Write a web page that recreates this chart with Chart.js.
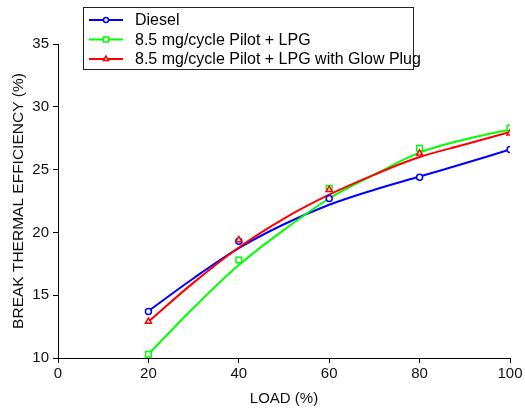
<!DOCTYPE html>
<html>
<head>
<meta charset="utf-8">
<script src="https://cdn.jsdelivr.net/npm/chart.js@4/dist/chart.umd.min.js"></script>
<style>
  html, body { margin: 0; padding: 0; background: #fff; }
  #wrap { position: relative; width: 525px; height: 408px; }
</style>
</head>
<body>
<div id="wrap"><canvas id="c" width="525" height="408"></canvas></div>
<script>
// Measured points
const loads = [20, 40, 60, 80, 100];
const dieselPts = [13.7, 19.3, 22.7, 24.4, 26.6];
const lpgPts = [10.3, 17.8, 23.5, 26.7, 28.3];
const glowPts = [12.9, 19.4, 23.4, 26.3, 27.9];

// Trend curves
const curveLoads = [20, 30, 40, 50, 60, 70, 80, 90, 100];
const dieselCurve = [13.74, 16.35, 18.75, 20.65, 22.2, 23.4, 24.45, 25.5, 26.6];
const lpgCurve = [10.3, 14.0, 17.4, 20.2, 22.7, 24.6, 26.35, 27.4, 28.2];
const glowCurve = [12.9, 16.0, 18.8, 21.1, 23.0, 24.6, 26.0, 27.0, 28.0];

const seriesNames = ['Diesel', '8.5 mg/cycle Pilot + LPG', '8.5 mg/cycle Pilot + LPG with Glow Plug'];
const xTicks = [0, 20, 40, 60, 80, 100];
const yTicks = [10, 15, 20, 25, 30, 35];

const BLUE = '#0000ff', GREEN = '#00ff00', RED = '#ff0000';
const FONT = "'Liberation Sans', Arial, sans-serif";

const xy = (xs, ys) => xs.map((x, i) => ({ x: x, y: ys[i] }));

function curveDs(ys, color, ord) {
  return { type: 'line', data: xy(curveLoads, ys), borderColor: color, borderWidth: 2,
    pointRadius: 0, fill: false, tension: 0.35, order: ord };
}
function markDs(ys, color, style, r, ord) {
  return { type: 'line', data: xy(loads, ys), showLine: false, borderColor: color,
    backgroundColor: '#fff', pointStyle: style, pointRadius: r, pointBorderWidth: 1.5,
    pointBorderColor: color, pointBackgroundColor: '#fff', order: ord };
}

const legendItems = [
  { label: seriesNames[0], color: BLUE, style: 'circle', r: 2.5 },
  { label: seriesNames[1], color: GREEN, style: 'rect', r: 3.5 },
  { label: seriesNames[2], color: RED, style: 'triangle', r: 3 }
];

const legendPlugin = {
  id: 'boxLegend',
  afterDraw(chart) {
    const ctx = chart.ctx;
    ctx.save();
    ctx.strokeStyle = '#222';
    ctx.lineWidth = 1;
    ctx.strokeRect(83.5, 7.5, 330, 62);
    ctx.font = '16px ' + FONT;
    ctx.textBaseline = 'middle';
    const ys = [20, 39.5, 59];
    legendItems.forEach((it, i) => {
      const y = ys[i];
      ctx.strokeStyle = it.color;
      ctx.lineWidth = 2;
      ctx.beginPath(); ctx.moveTo(89, y); ctx.lineTo(123, y); ctx.stroke();
      ctx.fillStyle = '#fff';
      ctx.lineWidth = 1.5;
      Chart.helpers.drawPoint(ctx, { pointStyle: it.style, radius: it.r, borderWidth: 1.5 }, 106, y);
      ctx.fillStyle = '#000';
      ctx.fillText(it.label, 135, y + 1);
    });
    ctx.restore();
  }
};

new Chart(document.getElementById('c'), {
  type: 'line',
  data: {
    datasets: [
      markDs(glowPts, RED, 'triangle', 3.5, 0),
      markDs(lpgPts, GREEN, 'rect', 4, 0),
      markDs(dieselPts, BLUE, 'circle', 3, 0),
      curveDs(glowCurve, RED, 1),
      curveDs(lpgCurve, GREEN, 2),
      curveDs(dieselCurve, BLUE, 3)
    ]
  },
  options: {
    responsive: false,
    animation: false,
    layout: { padding: { left: 0, right: 15, top: 44, bottom: 0 } },
    plugins: { legend: { display: false }, tooltip: { enabled: false } },
    scales: {
      x: {
        type: 'linear', min: 0, max: 100,
        afterFit(s) { s.height = 50; },
        afterBuildTicks(s) { s.ticks = xTicks.map(v => ({ value: v })); },
        grid: { drawOnChartArea: false, drawTicks: true, tickLength: 5, color: '#000' },
        border: { display: true, color: '#000', width: 1 },
        ticks: { color: '#111', font: { family: FONT, size: 15 }, padding: 2, maxRotation: 0 },
        title: { display: true, text: 'LOAD (%)', color: '#111', font: { family: FONT, size: 15 }, padding: { top: 0, bottom: 0 } }
      },
      y: {
        type: 'linear', min: 10, max: 35,
        afterFit(s) { s.width = 58; },
        afterBuildTicks(s) { s.ticks = yTicks.map(v => ({ value: v })); },
        grid: { drawOnChartArea: false, drawTicks: true, tickLength: 5, color: '#000' },
        border: { display: true, color: '#000', width: 1 },
        ticks: { color: '#111', font: { family: FONT, size: 15 }, padding: 4 },
        title: { display: true, text: 'BREAK THERMAL EFFICIENCY (%)', color: '#111', font: { family: FONT, size: 15.5 }, padding: { top: 9, bottom: 0 } }
      }
    }
  },
  plugins: [legendPlugin]
});
</script>
</body>
</html>
